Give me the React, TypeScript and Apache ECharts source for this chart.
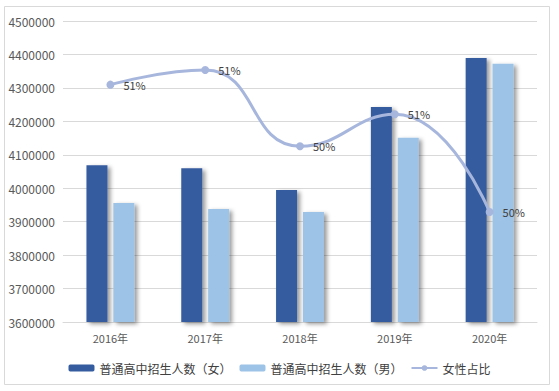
import React, { useEffect, useRef } from "react";
import * as echarts from "echarts";

const years = ["2016年", "2017年", "2018年", "2019年", "2020年"];
const female = [4069000, 4060000, 3995000, 4243000, 4389000];
const male = [3956000, 3938000, 3929000, 4151000, 4372000];
const femaleRatio = [0.5071, 0.5078, 0.50415, 0.50568, 0.501];
const seriesNames = ["普通高中招生人数（女）", "普通高中招生人数（男）", "女性占比"];

const FONT = "'Noto Sans CJK SC', 'Noto Sans', sans-serif";

export default function App() {
  const ref = useRef<HTMLDivElement>(null);
  useEffect(() => {
    const chart = echarts.init(ref.current!, null, { renderer: "svg" });
    const barShadow = {
      shadowColor: "rgba(0,0,0,0.4)",
      shadowBlur: 4,
      shadowOffsetX: 3,
      shadowOffsetY: 2,
    };
    chart.setOption({
      animation: false,
      textStyle: { fontFamily: FONT },
      graphic: [
        {
          type: "rect",
          shape: { x: 4.5, y: 6.5, width: 545, height: 378 },
          style: { fill: "none", stroke: "#d9d9d9", lineWidth: 1 },
          silent: true,
          z: -10,
        },
      ],
      grid: { left: 63, right: 22, top: 21, bottom: 69 },
      legend: {
        bottom: 12,
        left: "center",
        itemWidth: 26,
        itemHeight: 7,
        itemGap: 8,
        textStyle: { color: "#404040", fontSize: 12, fontFamily: FONT },
        data: seriesNames,
      },
      xAxis: {
        type: "category",
        data: years,
        axisTick: { show: false },
        axisLine: { lineStyle: { color: "#d9d9d9" } },
        axisLabel: { color: "#595959", fontSize: 11, margin: 10, fontFamily: FONT },
      },
      yAxis: [
        {
          type: "value",
          min: 3600000,
          max: 4500000,
          interval: 100000,
          axisLine: { show: false },
          axisTick: { show: false },
          splitLine: { lineStyle: { color: "#d9d9d9" } },
          axisLabel: {
            color: "#595959",
            fontSize: 12,
            margin: 8,
            fontFamily: FONT,
            formatter: (v: number) => String(v),
          },
        },
        {
          type: "value",
          min: 0.49573,
          max: 0.51015,
          show: false,
          splitLine: { show: false },
        },
      ],
      series: [
        {
          name: seriesNames[0],
          type: "bar",
          data: female,
          barWidth: 21,
          barGap: "28%",
          itemStyle: { color: "#355c9f", ...barShadow },
        },
        {
          name: seriesNames[1],
          type: "bar",
          data: male,
          barWidth: 21,
          barGap: "28%",
          itemStyle: { color: "#9dc3e6", ...barShadow },
        },
        {
          name: seriesNames[2],
          type: "line",
          yAxisIndex: 1,
          data: femaleRatio,
          smooth: 0.5,
          symbol: "circle",
          symbolSize: 8,
          lineStyle: { color: "#a7b6dc", width: 3 },
          itemStyle: { color: "#a7b6dc" },
          label: {
            show: true,
            position: "right",
            distance: 9,
            color: "#404040",
            fontSize: 11,
            fontFamily: FONT,
            formatter: (p: any) => Math.round(p.value * 100) + "%",
          },
          z: 5,
        },
      ],
    });
    return () => chart.dispose();
  }, []);
  return (
    <div
      ref={ref}
      style={{ position: "fixed", left: 0, top: 0, width: 559, height: 391, background: "#fff" }}
    />
  );
}
